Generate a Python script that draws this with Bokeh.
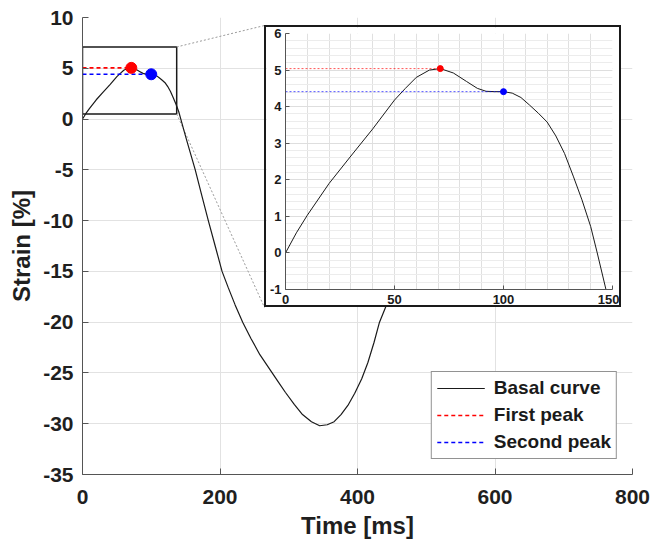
from bokeh.plotting import figure
from bokeh.models import (Range1d, Legend, LegendItem, GridBox, Column, ColumnDataSource,
                          SingleIntervalTicker, FixedTicker)
from bokeh.embed import file_html
from bokeh.resources import INLINE

# ---- data ----
time_ms = [0, 5, 10, 20, 30, 40, 50, 55, 60, 66, 71, 77, 83, 88, 92, 96, 100, 104, 108,
           112, 116, 120, 124, 128, 132, 136, 140, 143, 147, 152, 158, 164, 173, 183,
           193, 203, 212, 222, 233, 245, 258, 270, 283, 295, 308, 320, 333, 345, 356,
           366, 376, 386, 396, 406, 415, 424, 432, 441, 450, 460, 470, 480, 490]
strain = [0.0, 0.55, 1.03, 1.9, 2.65, 3.39, 4.18, 4.5, 4.8, 5.0, 5.04, 4.92, 4.69, 4.5,
          4.42, 4.41, 4.41, 4.37, 4.25, 4.04, 3.82, 3.58, 3.2, 2.72, 2.1, 1.45, 0.72, 0.0,
          -1.0, -2.2, -3.6, -5.0, -7.4, -10.0, -12.5, -15.0, -16.6, -18.3, -20.0, -21.6,
          -23.2, -24.4, -25.7, -26.9, -28.1, -29.1, -29.8, -30.2, -30.1, -29.8, -29.1,
          -28.2, -27.0, -25.6, -24.0, -22.0, -20.0, -18.5, -15.5, -11.5, -7.5, -4.5, -2.5]

peak_names = ["First peak", "Second peak"]
peak_time = [71, 100]
peak_strain = [5.04, 4.41]
peak_colors = ["#ff0000", "#0000ff"]

zoom_time = [0, 137]
zoom_strain = [0.5, 7.1]

x_ticks = [0, 200, 400, 600, 800]
y_ticks = list(range(-35, 11, 5))
inset_x_ticks = [0, 50, 100, 150]
inset_y_ticks = list(range(-1, 7))
inset_x_grid = list(range(0, 151, 10))

FONT = "Liberation Sans"
AXIS_COLOR = "#555555"
GRID_COLOR = "#e2e2e2"

# ---- layout geometry (pixels) ----
W, H = 652, 546
BL, BR, BT, BB = 82, 20, 17, 72
IN_LEFT, IN_TOP = 264, 25          # inset outer box position
IN_W, IN_H = 357, 282              # inset outer size (2px border included)
IN_BORDER = 2

X0, X1 = 0, 800
Y0, Y1 = -35, 10

p = figure(width=W, height=H, x_range=Range1d(X0, X1), y_range=Range1d(Y0, Y1),
           output_backend="svg", toolbar_location=None,
           min_border_left=BL, min_border_right=BR, min_border_top=BT, min_border_bottom=BB)
p.outline_line_color = None
p.background_fill_color = "white"

for ax in (p.xaxis[0], p.yaxis[0]):
    ax.axis_line_color = AXIS_COLOR
    ax.major_tick_line_color = AXIS_COLOR
    ax.major_tick_in = 6
    ax.major_tick_out = 0
    ax.minor_tick_line_color = None
    ax.major_label_text_font = FONT
    ax.major_label_text_font_style = "bold"
    ax.major_label_text_font_size = "21px"
    ax.major_label_text_color = "#1f1f1f"
    ax.axis_label_text_font = FONT
    ax.axis_label_text_font_style = "bold"
    ax.axis_label_text_font_size = "24px"
    ax.axis_label_text_color = "#1f1f1f"

p.xaxis.ticker = FixedTicker(ticks=x_ticks)
p.yaxis.ticker = FixedTicker(ticks=y_ticks)
p.yaxis.major_label_overrides = {v: str(v) for v in y_ticks}
p.xaxis.axis_label = "Time [ms]"
p.yaxis.axis_label = "Strain [%]"
p.xaxis.major_label_standoff = 15
p.xaxis.axis_label_standoff = 5
p.yaxis.major_label_standoff = 9
p.yaxis.axis_label_standoff = 5
p.xgrid.ticker = FixedTicker(ticks=x_ticks)
p.ygrid.ticker = FixedTicker(ticks=y_ticks)
p.xgrid.grid_line_color = GRID_COLOR
p.ygrid.grid_line_color = GRID_COLOR

curve_src = ColumnDataSource(dict(t=time_ms, s=strain))
peak_src = ColumnDataSource(dict(t0=[0, 0], t=peak_time, s=peak_strain, c=peak_colors))

# zoom rectangle
p.quad(left=[zoom_time[0]], right=[zoom_time[1]], bottom=[zoom_strain[0]], top=[zoom_strain[1]],
       fill_color=None, line_color="#1a1a1a", line_width=1.5)

# connector lines from zoom box to inset corners (inset position mapped through main scales)
fw = W - BL - BR
fh = H - BT - BB
cx = X0 + (IN_LEFT - BL) / fw * (X1 - X0)
cy_top = Y1 - (IN_TOP - BT) / fh * (Y1 - Y0)
cy_bot = Y1 - (IN_TOP + IN_H - BT) / fh * (Y1 - Y0)
p.segment(x0=[zoom_time[1], zoom_time[1]], y0=[zoom_strain[1], zoom_strain[0]],
          x1=[cx, cx], y1=[cy_top, cy_bot], line_color="#9a9a9a", line_width=1, line_dash="2 2")

basal = p.line("t", "s", source=curve_src, line_color="#1a1a1a", line_width=1.2)
r_first = p.segment(x0=[0], y0=[peak_strain[0]], x1=[peak_time[0]], y1=[peak_strain[0]],
                    line_color=peak_colors[0], line_width=1.6, line_dash="4 3")
r_second = p.segment(x0=[0], y0=[peak_strain[1]], x1=[peak_time[1]], y1=[peak_strain[1]],
                     line_color=peak_colors[1], line_width=1.6, line_dash="4 3")
p.scatter("t", "s", source=peak_src, size=11, fill_color="c", line_color="c")

legend = Legend(items=[LegendItem(label="Basal curve", renderers=[basal]),
                       LegendItem(label=peak_names[0], renderers=[r_first]),
                       LegendItem(label=peak_names[1], renderers=[r_second])],
                location="bottom_right", margin=15, padding=5, spacing=5,
                glyph_width=48, label_standoff=9,
                label_text_font=FONT, label_text_font_style="bold", label_text_font_size="19px",
                label_text_color="#1a1a1a",
                border_line_color="#262626", border_line_width=1, background_fill_alpha=1)
p.add_layout(legend)

# ---- inset ----
ins = figure(width=IN_W, height=IN_H, x_range=Range1d(0, 150), y_range=Range1d(-1, 6),
             output_backend="svg", toolbar_location=None,
             min_border_left=0, min_border_right=11, min_border_top=6, min_border_bottom=20,
             styles={"border": f"{IN_BORDER}px solid #1a1a1a"})
ins.outline_line_color = None
for ax in (ins.xaxis[0], ins.yaxis[0]):
    ax.axis_line_color = AXIS_COLOR
    ax.major_tick_line_color = AXIS_COLOR
    ax.major_tick_in = 4
    ax.major_tick_out = 0
    ax.minor_tick_line_color = None
    ax.major_label_text_font = FONT
    ax.major_label_text_font_style = "bold"
    ax.major_label_text_font_size = "13px"
    ax.major_label_text_color = "#1a1a1a"
ins.xaxis.ticker = FixedTicker(ticks=inset_x_ticks)
ins.yaxis.ticker = SingleIntervalTicker(interval=1, num_minor_ticks=5)
ins.yaxis.major_label_overrides = {v: str(v) for v in inset_y_ticks}
ins.xaxis.major_label_standoff = 5
ins.yaxis.major_label_standoff = 0
ins.xgrid.ticker = FixedTicker(ticks=inset_x_grid)
ins.xgrid.grid_line_color = "#e0e0e0"
ins.ygrid.grid_line_color = "#dedede"
ins.ygrid.minor_grid_line_color = "#ececec"

ins.line("t", "s", source=curve_src, line_color="#1a1a1a", line_width=1)
ins.segment(x0="t0", y0="s", x1="t", y1="s", source=peak_src, line_color="c",
            line_width=0.9, line_dash="2 2", line_alpha=0.75)
ins.scatter("t", "s", source=peak_src, size=6, fill_color="c", line_color="c")

# wrap the inset so its frame is not aligned with the main plot's frame
inset_box = Column(children=[ins], margin=(IN_TOP, 0, 0, IN_LEFT))

layout = GridBox(children=[(p, 0, 0), (inset_box, 0, 0)])

open("out.html", "w").write(file_html(layout, INLINE))
